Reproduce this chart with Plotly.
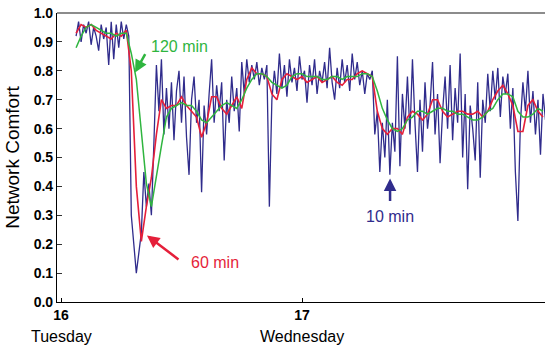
import plotly.graph_objects as go

# ---- data (time in hours since Tuesday 16 00:00) ----
BLUE_START, BLUE_STEP = 1.5, 0.25
blue_10min = [
    0.92, 0.97, 0.90, 0.96, 0.93, 0.97, 0.89, 0.95, 0.92, 0.87,
    0.96, 0.91, 0.95, 0.82, 0.97, 0.84, 0.96, 0.88, 0.97, 0.91,
    0.96, 0.92, 0.30, 0.20, 0.10, 0.17, 0.24, 0.45, 0.33, 0.41,
    0.30, 0.55, 0.82, 0.66, 0.84, 0.58, 0.74, 0.60, 0.76, 0.56,
    0.73, 0.80, 0.62, 0.78, 0.57, 0.44, 0.70, 0.78, 0.62, 0.70,
    0.38, 0.68, 0.58, 0.72, 0.84, 0.62, 0.75, 0.66, 0.76, 0.49,
    0.70, 0.62, 0.78, 0.66, 0.74, 0.59, 0.83, 0.72, 0.84, 0.76,
    0.82, 0.77, 0.83, 0.75, 0.81, 0.77, 0.82, 0.33, 0.70, 0.80,
    0.72, 0.86, 0.74, 0.82, 0.71, 0.84, 0.76, 0.81, 0.73, 0.85,
    0.77, 0.80, 0.69, 0.82, 0.75, 0.84, 0.72, 0.80, 0.76, 0.83,
    0.74, 0.88, 0.76, 0.70, 0.81, 0.74, 0.84, 0.76, 0.82, 0.73,
    0.86, 0.77, 0.83, 0.75, 0.80, 0.72, 0.79, 0.77, 0.80, 0.58,
    0.66, 0.45, 0.62, 0.50, 0.70, 0.44, 0.62, 0.52, 0.85, 0.47,
    0.72, 0.60, 0.78, 0.58, 0.84, 0.62, 0.45, 0.70, 0.52, 0.76,
    0.60, 0.68, 0.83, 0.58, 0.72, 0.48, 0.66, 0.78, 0.60, 0.82,
    0.56, 0.74, 0.62, 0.86, 0.50, 0.72, 0.39, 0.68, 0.60, 0.49,
    0.76, 0.43, 0.70, 0.62, 0.79, 0.66, 0.80, 0.70, 0.81, 0.64,
    0.78, 0.72, 0.79, 0.60, 0.74, 0.45, 0.28, 0.62, 0.76, 0.66,
    0.80, 0.62, 0.73, 0.58, 0.70, 0.51, 0.72, 0.63,
]

AVG_START, AVG_STEP = 1.5, 0.5
red_60min = [
    0.93, 0.96, 0.95, 0.96, 0.94, 0.93, 0.92, 0.91, 0.93, 0.92,
    0.94, 0.80, 0.40, 0.21, 0.33, 0.43, 0.58, 0.70, 0.67, 0.68,
    0.68, 0.71, 0.68, 0.66, 0.64, 0.57, 0.62, 0.71, 0.71, 0.67,
    0.65, 0.68, 0.71, 0.67, 0.77, 0.81, 0.79, 0.79, 0.78, 0.72,
    0.70, 0.77, 0.79, 0.78, 0.77, 0.78, 0.76, 0.77, 0.78, 0.76,
    0.77, 0.78, 0.76, 0.75, 0.77, 0.77, 0.79, 0.80, 0.79, 0.78,
    0.66, 0.60, 0.58, 0.60, 0.60, 0.58, 0.64, 0.66, 0.65, 0.63,
    0.65, 0.70, 0.70, 0.66, 0.64, 0.65, 0.66, 0.66, 0.65, 0.65,
    0.66, 0.64, 0.66, 0.70, 0.73, 0.75, 0.72, 0.68, 0.59, 0.59,
    0.68, 0.70, 0.66, 0.64,
]
green_120min = [
    0.88, 0.92, 0.95, 0.96, 0.95, 0.94, 0.93, 0.93, 0.92, 0.93,
    0.93, 0.86, 0.77, 0.59, 0.41, 0.33, 0.44, 0.54, 0.64, 0.67,
    0.68, 0.69, 0.68, 0.68, 0.66, 0.63, 0.62, 0.64, 0.66, 0.68,
    0.69, 0.68, 0.67, 0.70, 0.74, 0.77, 0.79, 0.79, 0.78, 0.76,
    0.75, 0.74, 0.75, 0.78, 0.79, 0.79, 0.78, 0.78, 0.78, 0.77,
    0.77, 0.78, 0.78, 0.77, 0.78, 0.78, 0.78, 0.79, 0.79, 0.78,
    0.73, 0.67, 0.63, 0.60, 0.59, 0.60, 0.63, 0.64, 0.66, 0.66,
    0.65, 0.66, 0.67, 0.67, 0.66, 0.66, 0.65, 0.65, 0.64, 0.63,
    0.63, 0.64, 0.66, 0.67, 0.70, 0.72, 0.72, 0.71, 0.66, 0.64,
    0.64, 0.65, 0.67, 0.66,
]

tick_hours = [0, 24]
tick_days = ["16", "17"]
day_names = ["Tuesday", "Wednesday"]
y_ticks = [0.0, 0.1, 0.2, 0.3, 0.4, 0.5, 0.6, 0.7, 0.8, 0.9, 1.0]

t_blue = [BLUE_START + BLUE_STEP * i for i in range(len(blue_10min))]
t_avg = [AVG_START + AVG_STEP * i for i in range(len(red_60min))]

BLUE = "#302c8c"
RED = "#e51f3a"
GREEN = "#2fb53f"
FONT = "Arial, Liberation Sans, sans-serif"

fig = go.Figure()
fig.add_trace(go.Scatter(x=t_blue, y=blue_10min, mode="lines",
                         line=dict(color=BLUE, width=1.3), name="10 min"))
fig.add_trace(go.Scatter(x=t_avg, y=red_60min, mode="lines",
                         line=dict(color=RED, width=1.6), name="60 min"))
fig.add_trace(go.Scatter(x=t_avg, y=green_120min, mode="lines",
                         line=dict(color=GREEN, width=1.5), name="120 min"))

fig.update_layout(
    width=545, height=345,
    margin=dict(l=57, r=0, t=13, b=43),
    paper_bgcolor="white", plot_bgcolor="white",
    showlegend=False,
    font=dict(family=FONT, color="black"),
    xaxis=dict(range=[-0.4, 48.2], tickmode="array", tickvals=tick_hours,
               ticktext=["<b>%s</b>" % d for d in tick_days],
               ticks="inside", ticklen=4, tickcolor="black",
               showline=True, linecolor="black", linewidth=1.2,
               showgrid=False, zeroline=False,
               tickfont=dict(size=14, family=FONT, color="black")),
    yaxis=dict(range=[0, 1], tickmode="array", tickvals=y_ticks,
               ticktext=["<b>%.1f</b>" % v for v in y_ticks],
               ticks="inside", ticklen=5, tickcolor="#333",
               showline=True, linecolor="black", linewidth=1.2,
               showgrid=False, zeroline=False,
               tickfont=dict(size=14, family=FONT, color="black"),
               title=dict(text="Network Comfort", standoff=8,
                          font=dict(size=19, family=FONT, color="black"))),
)

# top frame line
fig.add_shape(type="line", xref="paper", yref="paper", x0=0, x1=1, y0=1, y1=1,
              line=dict(color="#666", width=1.5))

# day names under ticks
for h, name in zip(tick_hours, day_names):
    fig.add_annotation(x=h, y=-0.118, xref="x", yref="paper", text=name,
                       showarrow=False, yanchor="middle",
                       font=dict(size=16, family=FONT, color="black"))

# series labels and arrows
labels = [
    ("120 min", 11.75, 0.884, GREEN, 7.37, 0.794, 11, -20),
    ("60 min", 15.34, 0.137, RED, 8.56, 0.230, 33, 25),
    ("10 min", 32.77, 0.296, BLUE, 32.77, 0.427, 0, 24),
]
for text, tx, ty, col, axp, ayp, dx, dy in labels:
    fig.add_annotation(x=tx, y=ty, text=text, showarrow=False,
                       font=dict(size=16, family=FONT, color=col))
    fig.add_annotation(x=axp, y=ayp, text="", showarrow=True,
                       ax=dx, ay=dy, arrowhead=2, arrowsize=1,
                       arrowwidth=2.5, arrowcolor=col)

fig.write_html("out.html",
               config={"displayModeBar": False},
               post_script="document.body.style.margin='0';"
                           "document.body.style.padding='0';")
